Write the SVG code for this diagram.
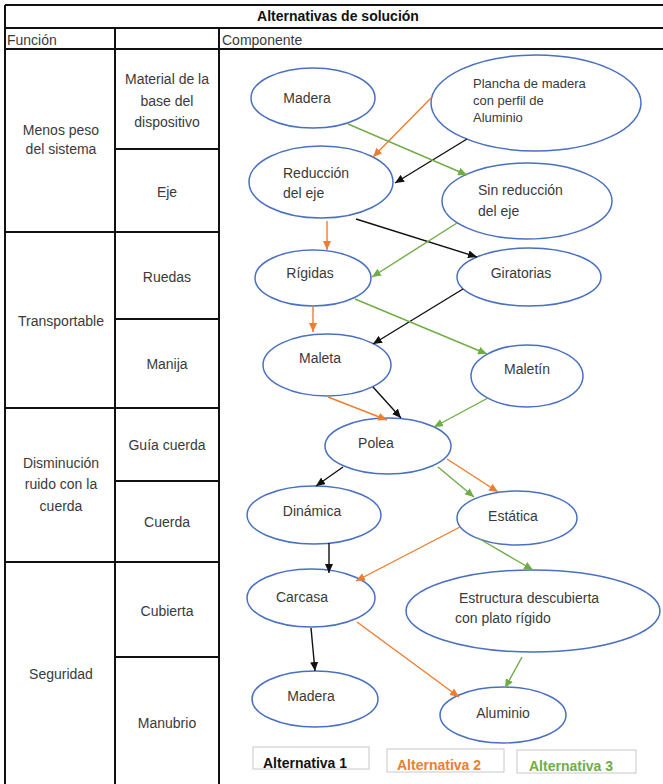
<svg xmlns="http://www.w3.org/2000/svg" width="663" height="784" viewBox="0 0 663 784">
  <style>
    .grid { stroke: #111; stroke-width: 2; fill: none; }
    .cell { font-family: "Liberation Sans", Arial, sans-serif; font-size: 14px; fill: #3a3a3a; text-anchor: middle; }
    .head { font-family: "Liberation Sans", Arial, sans-serif; font-size: 14px; fill: #3a3a3a; }
    .title { font-family: "Liberation Sans", Arial, sans-serif; font-size: 14px; font-weight: bold; fill: #111; text-anchor: middle; }
    .node ellipse { fill: #fff; stroke: #4a70c0; stroke-width: 1.5; }
    .node text { font-family: "Liberation Sans", Arial, sans-serif; font-size: 14px; fill: #3a3a3a; }
    .mid { text-anchor: middle; }
    .small { font-size: 13px !important; }
    .c1 { stroke: #111; stroke-width: 1.4; fill: none; marker-end: url(#a1); }
    .c2 { stroke: #ed7d31; stroke-width: 1.4; fill: none; marker-end: url(#a2); }
    .c3 { stroke: #70ad47; stroke-width: 1.4; fill: none; marker-end: url(#a3); }
    .legend rect { fill: #fff; stroke: #c8c8c8; stroke-width: 1; }
    .legend text { font-family: "Liberation Sans", Arial, sans-serif; font-size: 14px; font-weight: bold; }
  </style>
  <defs>
    <marker id="a1" markerUnits="userSpaceOnUse" markerWidth="9" markerHeight="8" refX="9" refY="4" orient="auto">
      <path d="M0,0 L9,4 L0,8 z" fill="#111"/>
    </marker>
    <marker id="a2" markerUnits="userSpaceOnUse" markerWidth="9" markerHeight="8" refX="9" refY="4" orient="auto">
      <path d="M0,0 L9,4 L0,8 z" fill="#ed7d31"/>
    </marker>
    <marker id="a3" markerUnits="userSpaceOnUse" markerWidth="9" markerHeight="8" refX="9" refY="4" orient="auto">
      <path d="M0,0 L9,4 L0,8 z" fill="#70ad47"/>
    </marker>
  </defs>

  <rect width="663" height="784" fill="#fff"/>

  <!-- table grid -->
  <g id="table">
    <path class="grid" d="M5,5 H663 M5,5 V784 M5,28 H663 M5,49 H663"/>
    <path class="grid" d="M115,28 V784 M219,28 V784"/>
    <path class="grid" d="M5,232 H219 M5,408 H219 M5,562 H219"/>
    <path class="grid" d="M115,149 H219 M115,319 H219 M115,481 H219 M115,657 H219"/>
    <text class="title" x="338" y="21">Alternativas de solución</text>
    <text class="head" x="7" y="45">Función</text>
    <text class="head" x="222" y="45">Componente</text>

    <text class="cell" x="61" y="135">Menos peso</text>
    <text class="cell" x="61" y="154">del sistema</text>
    <text class="cell" x="61" y="326">Transportable</text>
    <text class="cell" x="61" y="468">Disminución</text>
    <text class="cell" x="61" y="489">ruido con la</text>
    <text class="cell" x="61" y="511">cuerda</text>
    <text class="cell" x="61" y="679">Seguridad</text>

    <text class="cell" x="167" y="84">Material de la</text>
    <text class="cell" x="167" y="106">base del</text>
    <text class="cell" x="167" y="127">dispositivo</text>
    <text class="cell" x="167" y="197">Eje</text>
    <text class="cell" x="167" y="282">Ruedas</text>
    <text class="cell" x="167" y="369">Manija</text>
    <text class="cell" x="167" y="450">Guía cuerda</text>
    <text class="cell" x="167" y="527">Cuerda</text>
    <text class="cell" x="167" y="616">Cubierta</text>
    <text class="cell" x="167" y="728">Manubrio</text>
  </g>

  <!-- alternatives -->
  <g id="madera-base" class="node">
    <ellipse cx="313" cy="98" rx="62" ry="30"/>
    <text class="mid" x="307" y="103">Madera</text>
  </g>
  <g id="plancha" class="node">
    <ellipse cx="536" cy="103" rx="105" ry="48"/>
    <text class="small" x="473" y="88">Plancha de madera</text>
    <text class="small" x="473" y="105">con perfil de</text>
    <text class="small" x="473" y="122">Aluminio</text>
  </g>
  <g id="reduccion" class="node">
    <ellipse cx="321" cy="182" rx="72" ry="36"/>
    <text x="283" y="178">Reducción</text>
    <text x="283" y="198">del eje</text>
  </g>
  <g id="sin-reduccion" class="node">
    <ellipse cx="527" cy="201" rx="85" ry="38"/>
    <text x="478" y="195">Sin reducción</text>
    <text x="478" y="216">del eje</text>
  </g>
  <g id="rigidas" class="node">
    <ellipse cx="313" cy="278" rx="58" ry="28"/>
    <text class="mid" x="310" y="278">Rígidas</text>
  </g>
  <g id="giratorias" class="node">
    <ellipse cx="529" cy="277" rx="72" ry="29"/>
    <text class="mid" x="521" y="278">Giratorias</text>
  </g>
  <g id="maleta" class="node">
    <ellipse cx="327" cy="365" rx="64" ry="31"/>
    <text class="mid" x="320" y="363">Maleta</text>
  </g>
  <g id="maletin" class="node">
    <ellipse cx="527" cy="376" rx="56" ry="31"/>
    <text class="mid" x="527" y="374">Maletín</text>
  </g>
  <g id="polea" class="node">
    <ellipse cx="388" cy="446" rx="63" ry="28"/>
    <text class="mid" x="376" y="448">Polea</text>
  </g>
  <g id="dinamica" class="node">
    <ellipse cx="314" cy="515" rx="67" ry="29"/>
    <text class="mid" x="312" y="516">Dinámica</text>
  </g>
  <g id="estatica" class="node">
    <ellipse cx="517" cy="518" rx="60" ry="27"/>
    <text class="mid" x="513" y="521">Estática</text>
  </g>
  <g id="carcasa" class="node">
    <ellipse cx="311" cy="598" rx="64" ry="29"/>
    <text class="mid" x="302" y="602">Carcasa</text>
  </g>
  <g id="estructura" class="node">
    <ellipse cx="533" cy="611" rx="127" ry="41"/>
    <text x="459" y="603">Estructura descubierta</text>
    <text x="455" y="623">con plato rígido</text>
  </g>
  <g id="madera-manubrio" class="node">
    <ellipse cx="315" cy="699" rx="63" ry="28"/>
    <text class="mid" x="311" y="701">Madera</text>
  </g>
  <g id="aluminio" class="node">
    <ellipse cx="503" cy="715" rx="63" ry="28"/>
    <text class="mid" x="503" y="718">Aluminio</text>
  </g>

  <!-- connectors: black = alternativa 1, orange = 2, green = 3 -->
  <g id="connectors">
    <line class="c1" x1="467" y1="139" x2="395" y2="183"/>
    <line class="c1" x1="356" y1="219" x2="477" y2="257"/>
    <line class="c1" x1="463" y1="289" x2="373" y2="344"/>
    <line class="c1" x1="373" y1="387" x2="401" y2="418"/>
    <line class="c1" x1="343" y1="467" x2="316" y2="486"/>
    <line class="c1" x1="329" y1="543" x2="329" y2="573"/>
    <line class="c1" x1="311" y1="628" x2="315" y2="671"/>

    <line class="c2" x1="432" y1="97" x2="373" y2="157"/>
    <line class="c2" x1="327" y1="221" x2="327" y2="250"/>
    <line class="c2" x1="313" y1="307" x2="313" y2="332"/>
    <line class="c2" x1="328" y1="397" x2="387" y2="420"/>
    <line class="c2" x1="447" y1="459" x2="498" y2="492"/>
    <line class="c2" x1="460" y1="527" x2="356" y2="581"/>
    <line class="c2" x1="357" y1="622" x2="459" y2="697"/>

    <line class="c3" x1="348" y1="124" x2="467" y2="175"/>
    <line class="c3" x1="457" y1="223" x2="372" y2="277"/>
    <line class="c3" x1="355" y1="299" x2="487" y2="354"/>
    <line class="c3" x1="488" y1="398" x2="434" y2="427"/>
    <line class="c3" x1="438" y1="467" x2="474" y2="497"/>
    <line class="c3" x1="478" y1="538" x2="533" y2="570"/>
    <line class="c3" x1="522" y1="657" x2="505" y2="688"/>
  </g>

  <!-- legend -->
  <g id="legend" class="legend">
    <rect x="253" y="747" width="116" height="22"/>
    <text x="263" y="768" fill="#111">Alternativa 1</text>
    <rect x="387" y="749" width="117" height="23"/>
    <text x="397" y="770" fill="#ed7d31">Alternativa 2</text>
    <rect x="517" y="750" width="119" height="23"/>
    <text x="529" y="771" fill="#70ad47">Alternativa 3</text>
  </g>
</svg>
